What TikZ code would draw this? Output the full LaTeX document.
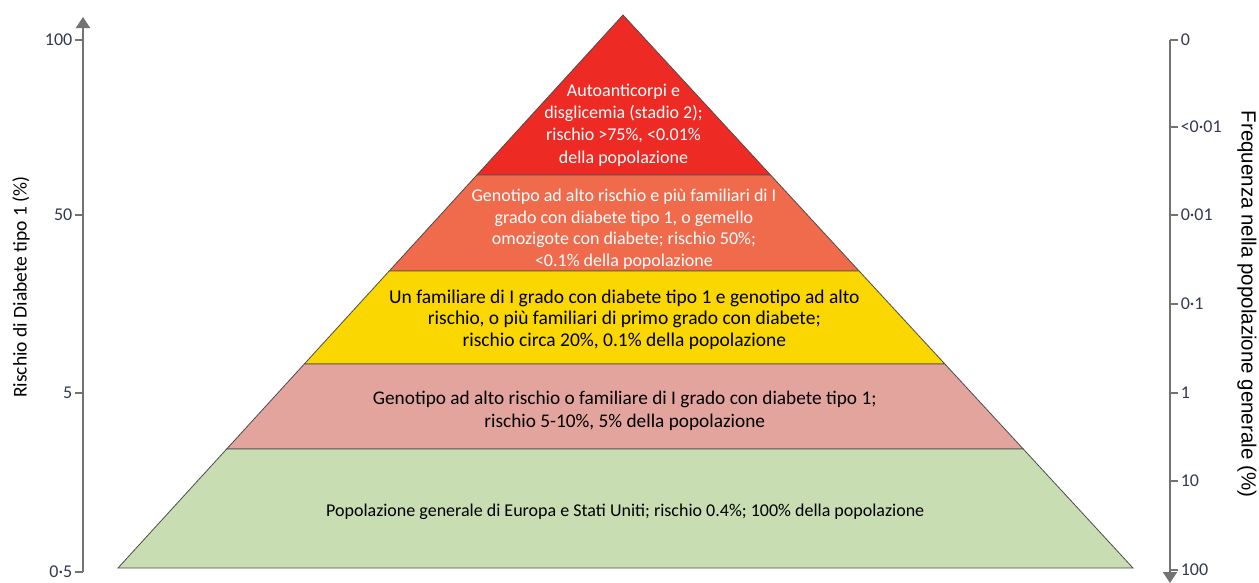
\documentclass[tikz,border=0pt]{standalone}
\usepackage{fontspec}
\setmainfont{Carlito}
\newfontfamily\arialfont{Liberation Sans}
\usepackage{xcolor}
\usetikzlibrary{positioning, arrows.meta, calc}

\definecolor{stageRed}{RGB}{237,43,36}
\definecolor{stageCoral}{RGB}{240,106,76}
\definecolor{stageYellow}{RGB}{250,215,0}
\definecolor{stagePink}{RGB}{227,164,158}
\definecolor{stageGreen}{RGB}{201,221,179}
\definecolor{tickGray}{RGB}{52,56,84}

\begin{document}
\begin{tikzpicture}[x=1pt, y=-1pt,
    layer/.style={draw=black!70, line width=0.8pt},
    layerText/.style={align=center, font=\fontsize{18}{21.5}\selectfont},
    axisLine/.style={draw=black!55, line width=2pt},
    axisTip/.style={-{Triangle[length=11pt, width=14pt]}},
    tickLabel/.style={font=\fontsize{18}{20}\selectfont, text=tickGray, inner sep=2pt},
    axisTitle/.style={font=\fontsize{19.5}{21}\selectfont}]

  \useasboundingbox (0,0) rectangle (1259,582);

  % pyramid outline
  \coordinate (apex) at (623,15);
  \coordinate (baseL) at (118,568);
  \coordinate (baseR) at (1133,568);
  \coordinate (baseM) at ($(baseL)!0.5!(baseR)$);
  \foreach \i/\t in {1/0.2893, 2/0.4629, 3/0.6311, 4/0.7848} {
    \coordinate (L\i) at ($(apex)!\t!(baseL)$);
    \coordinate (R\i) at ($(apex)!\t!(baseR)$);
    \coordinate (M\i) at ($(L\i)!0.5!(R\i)$);
  }

  \filldraw[layer, fill=stageRed] (apex) -- (R1) -- (L1) -- cycle;
  \filldraw[layer, fill=stageCoral] (L1) -- (R1) -- (R2) -- (L2) -- cycle;
  \filldraw[layer, fill=stageYellow] (L2) -- (R2) -- (R3) -- (L3) -- cycle;
  \filldraw[layer, fill=stagePink] (L3) -- (R3) -- (R4) -- (L4) -- cycle;
  \filldraw[layer, fill=stageGreen] (L4) -- (R4) -- (baseR) -- (baseL) -- cycle;

  \node[layerText, font=\fontsize{18}{22.3}\selectfont, text=white, yshift=-1pt] (stageTwo) at ($(apex)!0.68!(M1)$)
    {Autoanticorpi e\\disglicemia (stadio 2);\\rischio >75\%, <0.01\%\\della popolazione};
  \node[layerText, text=white, yshift=-6pt] (multiFamily) at ($(M1)!0.5!(M2)$)
    {Genotipo ad alto rischio e più familiari di I\\grado con diabete tipo 1, o gemello\\omozigote con diabete; rischio 50\%;\\<0.1\% della popolazione};
  \node[layerText, font=\fontsize{19.5}{21.5}\selectfont, yshift=-2pt] (oneFamily) at ($(M2)!0.5!(M3)$)
    {Un familiare di I grado con diabete tipo 1 e genotipo ad alto\\rischio, o più familiari di primo grado con diabete;\\rischio circa 20\%, 0.1\% della popolazione};
  \node[layerText, font=\fontsize{19.3}{23}\selectfont, yshift=-4pt] (highRisk) at ($(M3)!0.5!(M4)$)
    {Genotipo ad alto rischio o familiare di I grado con diabete tipo 1;\\rischio 5-10\%, 5\% della popolazione};
  \node[layerText, yshift=-3pt] (general) at ($(M4)!0.5!(baseM)$)
    {Popolazione generale di Europa e Stati Uniti; rischio 0.4\%; 100\% della popolazione};

  % left axis: risk
  \coordinate (riskTop) at (83,17);
  \coordinate (riskBot) at (83,572);
  \draw[axisLine, axisTip] (riskBot) -- (riskTop);
  \foreach \y/\lab in {40/100, 215/50, 393/5, 572/0·5}
    \draw[axisLine, line width=1.5pt] (83,\y) -- (75,\y) node[tickLabel, left] {\lab};
  \node[axisTitle, rotate=90] (riskTitle) at (21,287) {Rischio di Diabete tipo 1 (\%)};

  % right axis: frequency
  \coordinate (freqTop) at (1170,40);
  \coordinate (freqBot) at (1170,583);
  \draw[axisLine, axisTip] (freqTop) -- (freqBot);
  \foreach \y/\lab in {40/0, 127/<0·01, 215/0·01, 304/0·1, 393/1, 481/10, 570/100}
    \draw[axisLine, line width=1.5pt] (1170,\y) -- (1178,\y) node[tickLabel, right] {\lab};
  \node[font=\arialfont\fontsize{20.5}{22}\selectfont, rotate=-90] (freqTitle) at (1247,304) {Frequenza nella popolazione generale (\%)};

\end{tikzpicture}
\end{document}
